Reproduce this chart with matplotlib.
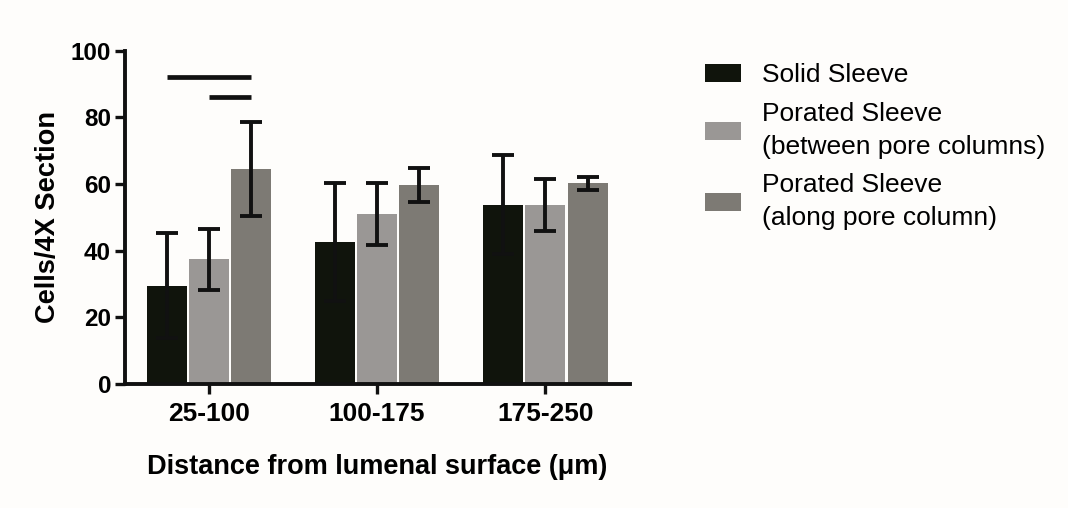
from __future__ import annotations

import numpy as np
from matplotlib.backends.backend_agg import FigureCanvasAgg
from matplotlib.figure import Figure

distance_bins = ["25-100", "100-175", "175-250"]
series_labels = [
    "Solid Sleeve",
    "Porated Sleeve\n(between pore columns)",
    "Porated Sleeve\n(along pore column)",
]
solid_mean = [29.5, 42.5, 53.8]
solid_sd = [15.7, 17.7, 14.9]
between_mean = [37.4, 51.0, 53.8]
between_sd = [9.2, 9.4, 7.8]
along_mean = [64.5, 59.7, 60.2]
along_sd = [14.2, 5.1, 2.0]

# significance bars over the first bin: (from series, to series, height)
significance = [(0, 2, 92.0), (1, 2, 86.0)]

FONT = ["Liberation Sans", "DejaVu Sans"]
COLORS = ("#10140c", "#9a9795", "#7d7a74")
BACKGROUND = "#fefdfb"


def main() -> None:
    figure = Figure(figsize=(10.68, 5.08), dpi=100, facecolor=BACKGROUND)
    FigureCanvasAgg(figure)
    axis = figure.add_axes((0.117, 0.244, 0.473, 0.656))
    axis.set_facecolor(BACKGROUND)

    positions = np.arange(len(distance_bins))
    width = 0.238
    step = 0.252
    means = (solid_mean, between_mean, along_mean)
    spreads = (solid_sd, between_sd, along_sd)
    for index, (values, errors, color, label) in enumerate(
        zip(means, spreads, COLORS, series_labels)
    ):
        x = positions + (index - 1) * step
        axis.bar(x, values, width=width, color=color, linewidth=0, label=label, zorder=2)
        axis.errorbar(
            x,
            values,
            yerr=errors,
            fmt="none",
            ecolor="#111111",
            elinewidth=2.8,
            capsize=8,
            capthick=2.8,
            zorder=3,
        )

    for start, end, height in significance:
        x0 = positions[0] + (start - 1) * step
        x1 = positions[0] + (end - 1) * step
        axis.plot([x0, x1], [height, height], color="#111111", linewidth=3.4,
                  solid_capstyle="butt", zorder=3)

    axis.set_xlim(-0.5, 2.505)
    axis.set_ylim(0, 100)
    axis.set_yticks(np.arange(0, 101, 20))
    axis.set_xticks(positions, distance_bins)
    for side in ("top", "right"):
        axis.spines[side].set_visible(False)
    for side in ("left", "bottom"):
        axis.spines[side].set_linewidth(2.8)
        axis.spines[side].set_color("#111111")
    axis.tick_params(axis="y", length=7, width=2.4, color="#111111", pad=3)
    axis.tick_params(axis="x", length=7, width=2.4, color="#111111", pad=6)
    for tick in axis.get_yticklabels():
        tick.set_fontfamily(FONT)
        tick.set_fontweight("bold")
        tick.set_fontsize(17.5)
    for tick in axis.get_xticklabels():
        tick.set_fontfamily(FONT)
        tick.set_fontweight("bold")
        tick.set_fontsize(19)

    axis.set_ylabel("Cells/4X Section", family=FONT, fontweight="bold",
                    fontsize=19.6, labelpad=7)
    axis.set_xlabel("Distance from lumenal surface (\u03bcm)", family=FONT,
                    fontweight="bold", fontsize=19.5, labelpad=20)

    legend = axis.legend(
        loc="upper left",
        bbox_to_anchor=(0.660, 0.875),
        bbox_transform=figure.transFigure,
        borderaxespad=0,
        borderpad=0,
        frameon=False,
        prop={"family": FONT, "size": 19},
        handlelength=1.36,
        handleheight=0.67,
        handletextpad=0.8,
        labelspacing=0.55,
    )
    for handle in legend.legend_handles:
        handle.set_linewidth(0)
    for text in legend.get_texts():
        text.set_linespacing(1.45)

    figure.savefig("out.png", dpi=100, facecolor=BACKGROUND)


if __name__ == "__main__":
    main()
